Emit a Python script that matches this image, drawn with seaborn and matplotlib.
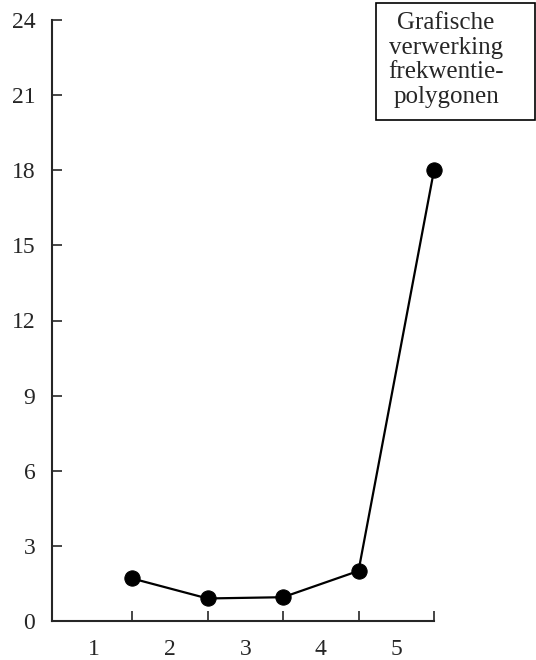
import numpy as np
import pandas as pd
import matplotlib.pyplot as plt
import seaborn as sns
from matplotlib.patches import Rectangle

class_bounds = [1.5, 2.5, 3.5, 4.5, 5.5]
frequency = [1.7, 0.9, 0.95, 2.0, 18.0]
class_labels = ["1", "2", "3", "4", "5"]
class_centers = [1, 2, 3, 4, 5]
y_ticks = [0, 3, 6, 9, 12, 15, 18, 21, 24]
box_text = "Grafische\nverwerking\nfrekwentie-\npolygonen"

sns.set_style("ticks")
plt.rcParams["font.family"] = ["Liberation Serif", "DejaVu Serif"]

df = pd.DataFrame({"grens": class_bounds, "frekwentie": frequency})

fig = plt.figure(figsize=(5.36, 6.60), dpi=100)
ax = fig.add_axes([52 / 536, 1 - 621 / 660, (434 - 52) / 536, (621 - 20) / 660])

sns.lineplot(
    data=df, x="grens", y="frekwentie", ax=ax,
    color="black", linewidth=1.6, marker="o", markersize=11,
    markeredgecolor="black", markerfacecolor="black", clip_on=False,
)

ax.set_xlim(0.44, 5.5)
ax.set_ylim(0, 24)
sns.despine(ax=ax)
for s in ["left", "bottom"]:
    ax.spines[s].set_linewidth(1.5)

ax.set_yticks(y_ticks)
ax.set_yticklabels([str(v) for v in y_ticks])
ax.tick_params(axis="y", direction="in", length=7, width=1.2, pad=12, labelsize=17)

ax.set_xticks(class_centers)
ax.set_xticklabels(class_labels)
ax.set_xticks(class_bounds, minor=True)
ax.tick_params(axis="x", which="major", length=0, pad=13, labelsize=17)
ax.tick_params(axis="x", which="minor", direction="in", length=7, width=1.2)

ax.set_xlabel("")
ax.set_ylabel("")

fig.patches.append(Rectangle((376 / 536, 1 - 120 / 660), 159 / 536, 117 / 660,
                             transform=fig.transFigure, fill=False,
                             edgecolor="black", linewidth=1.2))
fig.text(446 / 536, 1 - 60 / 660, box_text, ha="center", va="center",
         multialignment="center", fontsize=18, linespacing=1.15)

fig.savefig("out.png", dpi=100)
